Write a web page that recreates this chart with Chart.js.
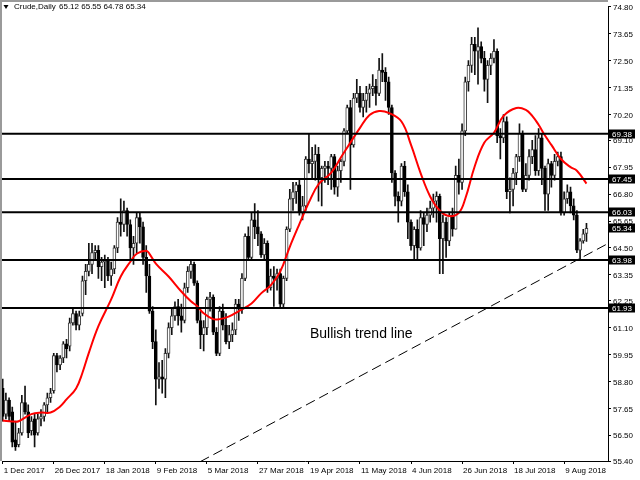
<!DOCTYPE html>
<html lang="en">
<head>
    <meta charset="UTF-8">
    <title>Crude,Daily</title>
    <style>
        body { margin: 0; background: #fff; }
    </style>
</head>
<body>
    <div style="width: 640px; height: 480px;">
        <canvas id="myChart" width="640" height="480"></canvas>
    </div>

    <script src="https://cdn.jsdelivr.net/npm/chart.js"></script>
    <script>
        // bar index of each date label on the time axis
        const dateIdx = [0, 16, 32, 48, 64, 80, 96, 112, 128, 144, 160, 176];
        const dateLabels = ['1 Dec 2017', '26 Dec 2017', '18 Jan 2018', '9 Feb 2018', '5 Mar 2018', '27 Mar 2018',
            '19 Apr 2018', '11 May 2018', '4 Jun 2018', '26 Jun 2018', '18 Jul 2018', '9 Aug 2018'];

        // price axis ticks
        const yTicks = [74.80, 73.65, 72.50, 71.35, 70.20, 69.10, 67.95, 66.80, 65.65, 64.50,
            63.35, 62.25, 61.10, 59.95, 58.80, 57.65, 56.50, 55.40];

        // daily candles
        const openP = [
            58.5, 57.4, 58.0, 57.5, 56.3, 56.1, 56.6, 57.9, 57.5, 56.7, 57.2, 56.6, 57.2, 57.3, 57.8, 58.1,
            58.4, 59.9, 59.5, 59.8, 60.4, 60.3, 61.3, 61.7, 61.2, 61.7, 63.1, 63.5, 63.8, 64.3, 64.4, 63.7,
            63.9, 64.0, 63.3, 63.6, 64.5, 65.6, 65.5, 66.1, 65.5, 64.5, 64.7, 65.8, 65.4, 64.1, 63.3, 61.8,
            60.5, 58.9, 59.0, 58.9, 60.0, 61.1, 61.6, 62.0, 61.6, 61.4, 62.8, 63.5, 63.8, 63.0, 61.4, 60.8,
            61.1, 62.3, 62.4, 60.9, 60.0, 61.8, 61.2, 60.5, 60.8, 61.0, 62.1, 61.9, 63.2, 65.0, 64.1, 65.7,
            65.4, 65.1, 64.2, 64.7, 62.8, 63.3, 63.2, 63.4, 62.1, 63.2, 65.3, 66.6, 66.9, 67.2, 66.0, 66.3,
            68.3, 68.1, 68.2, 68.5, 67.5, 67.9, 68.0, 67.9, 68.4, 67.1, 67.8, 68.2, 69.5, 70.5, 68.9, 70.9,
            71.1, 70.5, 70.8, 71.1, 71.3, 71.4, 71.1, 72.1, 72.0, 71.6, 70.5, 67.7, 66.7, 66.5, 68.0, 66.9,
            65.6, 64.6, 65.3, 64.5, 65.8, 65.5, 65.9, 66.2, 66.5, 66.7, 64.9, 65.6, 64.8, 65.9, 65.3, 67.6,
            67.3, 69.5, 71.6, 72.3, 73.2, 72.9, 73.1, 72.6, 71.7, 72.3, 72.6, 72.9, 69.3, 69.2, 69.9, 66.9,
            67.0, 67.7, 68.4, 69.4, 67.0, 67.6, 68.4, 68.7, 67.8, 69.2, 67.9, 66.8, 68.1, 67.6, 68.2, 68.4,
            66.0, 66.6, 66.9, 66.3, 65.9, 64.4, 64.8, 65.12
        ];
        const highP = [
            58.9, 58.3, 58.1, 57.7, 57.1, 56.8, 58.2, 58.6, 57.8, 57.3, 57.4, 57.4, 57.6, 57.9, 58.3, 58.5,
            60.0, 60.0, 59.9, 60.5, 60.6, 61.5, 61.9, 61.8, 61.8, 63.3, 63.8, 64.7, 64.7, 64.6, 64.6, 64.1,
            64.2, 64.1, 63.9, 64.6, 65.8, 66.6, 66.5, 66.2, 65.7, 65.0, 66.0, 66.0, 65.6, 64.6, 63.8, 62.0,
            61.0, 59.6, 59.7, 60.2, 61.3, 61.9, 62.2, 62.3, 62.1, 63.0, 63.7, 64.0, 63.9, 63.1, 61.8, 61.4,
            62.4, 62.6, 62.5, 61.1, 62.0, 62.1, 61.7, 61.2, 61.3, 62.3, 62.3, 63.4, 65.1, 65.4, 66.0, 66.4,
            66.1, 65.2, 64.9, 64.8, 63.6, 63.7, 63.6, 63.6, 63.3, 65.4, 67.0, 67.3, 67.3, 67.4, 66.7, 68.4,
            69.4, 68.8, 68.9, 68.8, 68.0, 68.2, 68.2, 68.5, 68.5, 68.0, 68.3, 69.6, 70.6, 70.8, 71.1, 71.7,
            71.4, 71.1, 71.4, 71.5, 71.9, 71.7, 72.6, 72.8, 72.2, 71.8, 70.6, 67.8, 66.9, 68.1, 68.2, 67.2,
            65.7, 65.4, 65.7, 66.1, 66.0, 66.2, 66.5, 66.8, 66.9, 66.8, 65.9, 65.8, 66.0, 66.2, 68.0, 68.3,
            69.8, 71.8, 72.5, 73.5, 73.5, 73.9, 73.3, 72.9, 72.5, 72.8, 73.4, 73.0, 69.6, 70.2, 70.1, 67.5,
            67.9, 68.5, 69.8, 69.5, 68.1, 68.7, 69.1, 69.3, 69.6, 69.4, 68.0, 68.3, 68.2, 68.5, 68.6, 68.6,
            66.9, 67.2, 67.1, 66.6, 66.1, 64.9, 65.3, 65.55
        ];
        const lowP = [
            57.1, 57.2, 57.1, 56.0, 55.85, 56.0, 56.5, 57.4, 56.4, 56.5, 56.0, 56.5, 56.9, 57.1, 57.5, 57.9,
            58.3, 59.2, 59.3, 59.6, 59.8, 60.1, 61.2, 61.0, 61.0, 61.6, 62.5, 63.3, 63.4, 64.0, 63.2, 63.1,
            62.8, 63.1, 62.9, 63.4, 64.3, 65.0, 65.2, 65.0, 64.0, 63.8, 64.3, 64.7, 63.8, 62.6, 61.7, 60.2,
            57.8, 58.5, 58.3, 58.1, 59.8, 60.8, 61.4, 61.2, 60.9, 61.3, 62.6, 63.2, 62.9, 61.3, 60.2, 60.1,
            60.8, 61.8, 60.8, 59.9, 59.9, 61.0, 60.4, 60.2, 60.5, 60.8, 61.4, 61.7, 63.1, 64.0, 64.0, 64.9,
            64.6, 64.1, 64.0, 62.6, 62.7, 62.0, 62.7, 61.93, 61.95, 63.1, 65.2, 66.1, 66.4, 65.9, 65.7, 66.1,
            67.7, 67.5, 67.4, 66.5, 66.3, 67.3, 67.2, 67.0, 66.8, 66.7, 67.3, 68.0, 69.4, 67.0, 68.8, 70.7,
            70.3, 70.1, 70.3, 70.5, 71.0, 70.6, 71.0, 71.6, 70.8, 70.2, 67.3, 66.3, 65.6, 66.3, 66.7, 64.9,
            64.4, 64.0, 64.0, 64.4, 64.6, 65.2, 65.6, 65.8, 65.6, 63.4, 63.4, 64.1, 64.6, 65.0, 65.3, 66.8,
            67.0, 69.3, 71.2, 72.0, 71.9, 71.5, 72.4, 71.2, 70.7, 71.9, 72.4, 69.0, 68.3, 69.0, 66.6, 66.0,
            66.3, 67.2, 68.2, 66.9, 66.9, 67.4, 68.1, 67.6, 67.6, 67.2, 66.1, 66.1, 67.1, 67.4, 68.0, 65.9,
            65.9, 66.4, 66.0, 65.7, 64.3, 63.98, 64.7, 64.78
        ];
        const closeP = [
            57.3, 58.0, 57.3, 56.2, 56.0, 56.6, 57.9, 57.5, 56.6, 57.1, 56.5, 57.2, 57.3, 57.8, 58.1, 58.3,
            59.9, 59.5, 59.8, 60.4, 60.2, 61.3, 61.7, 61.2, 61.6, 63.1, 63.5, 63.8, 64.3, 64.4, 63.7, 63.9,
            64.0, 63.3, 63.6, 64.5, 65.6, 65.5, 66.1, 65.5, 64.5, 64.7, 65.8, 65.4, 64.1, 63.3, 61.8, 60.5,
            58.9, 59.0, 58.9, 60.0, 61.1, 61.6, 62.0, 61.6, 61.4, 62.8, 63.5, 63.8, 63.0, 61.4, 60.8, 61.1,
            62.3, 62.4, 60.9, 60.0, 61.8, 61.2, 60.5, 60.8, 61.0, 62.1, 61.9, 63.2, 65.0, 64.1, 65.7, 65.4,
            65.1, 64.2, 64.7, 62.8, 63.3, 63.2, 63.4, 62.1, 63.2, 65.3, 66.6, 66.9, 67.2, 66.0, 66.3, 68.3,
            68.1, 68.2, 68.5, 67.5, 67.9, 68.0, 67.9, 68.4, 67.1, 67.8, 68.2, 69.5, 70.5, 68.9, 70.9, 71.1,
            70.5, 70.8, 71.1, 71.3, 71.4, 71.1, 72.1, 72.0, 71.6, 70.5, 67.7, 66.7, 66.5, 68.0, 66.9, 65.6,
            64.6, 65.3, 64.5, 65.8, 65.5, 65.9, 66.2, 66.5, 66.7, 64.9, 65.6, 64.8, 65.9, 65.3, 67.6, 67.3,
            69.5, 71.6, 72.3, 73.2, 72.9, 73.1, 72.6, 71.7, 72.3, 72.6, 72.9, 69.3, 69.2, 69.9, 66.9, 67.0,
            67.7, 68.4, 69.4, 67.0, 67.6, 68.4, 68.7, 67.8, 69.2, 67.9, 66.8, 68.1, 67.6, 68.2, 68.4, 66.0,
            66.6, 66.9, 66.3, 65.9, 64.4, 64.8, 65.1, 65.34
        ];

        // red moving average, read at some bars
        const maIdx = [0, 3, 5, 9, 12, 15, 18, 20, 23, 25, 27, 30, 34, 37, 40, 42, 45, 46, 48, 52, 56, 59, 61,
            63, 66, 68, 71, 74, 78, 81, 84, 87, 90, 93, 96, 99, 103, 106, 109, 112, 115, 118, 121, 125,
            128, 131, 134, 137, 140, 143, 145, 148, 151, 154, 157, 161, 164, 166, 168, 170, 172, 175, 178, 180, 183];
        const maVal = [57.13, 57.09, 57.1, 57.4, 57.47, 57.47, 57.73, 58.03, 58.5, 59.17, 60.02, 61.16, 62.3,
            63.28, 63.91, 64.25, 64.38, 64.25, 63.83, 63.28, 62.64, 62.22, 62.01, 61.71, 61.46, 61.46, 61.58,
            61.8, 62.13, 62.56, 62.9, 63.49, 64.55, 65.52, 66.45, 67.22, 67.72, 68.36, 69.0, 69.63, 70.18,
            70.35, 70.27, 69.9, 68.9, 67.7, 66.7, 66.1, 65.86, 66.0, 66.6, 68.0, 69.0, 69.42, 70.14, 70.48,
            70.4, 70.14, 69.76, 69.3, 68.9, 68.3, 67.95, 67.8, 67.25];

        // horizontal levels and last price
        const levels = [69.38, 67.45, 66.03, 63.98, 61.93];
        const lastPrice = 65.34;
        const headerPrices = '65.12 65.55 64.78 65.34';

        // dashed trend line, two ends
        const trendIdx = [61.9, 189.75];
        const trendVal = [55.37, 64.69];

        const X_MIN = -0.22, X_MAX = 189.75;
        const FONT = "'Liberation Sans', Arial, sans-serif";

        Chart.defaults.font.family = FONT;
        Chart.defaults.font.size = 8;
        Chart.defaults.color = '#000';

        let v_wicks = lowP.map((l, i) => ({ x: i, y: [l, highP[i]] }));
        let v_bodies = openP.map((o, i) => ({ x: i, y: [Math.min(o, closeP[i]), Math.max(o, closeP[i])] }));
        let v_isUp = openP.map((o, i) => closeP[i] >= o);

        let v_datasets = [];
        // horizontal lines on top
        levels.forEach(lv => {
            v_datasets.push({
                type: 'line',
                data: [{ x: X_MIN, y: lv }, { x: X_MAX, y: lv }],
                borderColor: '#000',
                borderWidth: 2,
                pointRadius: 0,
                order: 0
            });
        });
        v_datasets.push({
            type: 'line',
            data: trendIdx.map((x, k) => ({ x: x, y: trendVal[k] })),
            borderColor: '#000',
            borderWidth: 1,
            borderDash: [10, 5],
            pointRadius: 0,
            order: 0
        });
        v_datasets.push({
            type: 'line',
            data: maIdx.map((x, k) => ({ x: x, y: maVal[k] })),
            borderColor: '#ff0000',
            borderWidth: 2,
            pointRadius: 0,
            tension: 0.4,
            order: 1
        });
        v_datasets.push({
            type: 'bar',
            data: v_bodies,
            backgroundColor: ctx => v_isUp[ctx.dataIndex] ? '#ffffff' : '#000000',
            borderColor: ctx => v_isUp[ctx.dataIndex] ? '#3a3a3a' : '#000000',
            borderWidth: 1,
            borderSkipped: false,
            barThickness: 3,
            minBarLength: 1,
            grouped: false,
            order: 2
        });
        v_datasets.push({
            type: 'bar',
            data: v_wicks,
            backgroundColor: '#111111',
            barThickness: 1,
            grouped: false,
            order: 3
        });

        // frame, header, price boxes, text note
        const decor = {
            id: 'decor',
            afterDraw(chart) {
                const c = chart.ctx;
                const a = chart.chartArea;
                const ys = chart.scales.y;
                const xs = chart.scales.x;
                c.save();
                // grey frame left and top
                c.fillStyle = '#9a9a9a';
                c.fillRect(0, 0, 2, a.bottom);
                c.fillRect(0, 0, a.right, 2);

                // header
                c.fillStyle = '#000';
                c.beginPath();
                c.moveTo(3.5, 5); c.lineTo(8.5, 5); c.lineTo(6, 9); c.closePath();
                c.fill();
                c.font = '8px ' + FONT;
                c.textBaseline = 'middle';
                c.textAlign = 'left';
                c.fillText('Crude,Daily', 14, 7);
                c.fillText(headerPrices, 59, 7);

                // price boxes on axis
                levels.concat([lastPrice]).forEach(v => {
                    const y = Math.round(ys.getPixelForValue(v));
                    c.fillStyle = '#000';
                    c.fillRect(a.right + 1, y - 4.5, 26, 9);
                    c.fillStyle = '#fff';
                    c.fillText(v.toFixed(2), a.right + 4, y + 0.5);
                });

                // note
                c.fillStyle = '#000';
                c.font = '14px ' + FONT;
                c.textBaseline = 'alphabetic';
                c.fillText('Bullish trend line', xs.getPixelForValue(96.3), ys.getPixelForValue(60.67));
                c.restore();
            }
        };

        const ctx = document.querySelector('#myChart');
        let v_chart = new Chart(ctx, {
            type: 'bar',
            data: { datasets: v_datasets },
            plugins: [decor],
            options: {
                responsive: false,
                animation: false,
                devicePixelRatio: 1,
                layout: { padding: { left: 2, top: 1, right: 0, bottom: 0 } },
                plugins: {
                    legend: { display: false },
                    tooltip: { enabled: false }
                },
                scales: {
                    x: {
                        type: 'linear',
                        position: 'bottom',
                        min: X_MIN,
                        max: X_MAX,
                        offset: false,
                        grid: { display: true, drawOnChartArea: false, drawTicks: true, tickLength: 3, color: '#000', offset: false },
                        border: { display: true, color: '#000' },
                        ticks: {
                            autoSkip: false,
                            maxRotation: 0,
                            align: 'start',
                            padding: 2,
                            labelOffset: 1,
                            callback: (v, i) => dateLabels[i]
                        },
                        afterBuildTicks: s => { s.ticks = dateIdx.map(v => ({ value: v })); },
                        afterFit: s => { s.height = 19; }
                    },
                    y: {
                        type: 'linear',
                        position: 'right',
                        min: 55.40,
                        max: 74.80,
                        beginAtZero: false,
                        grid: { display: true, drawOnChartArea: false, drawTicks: true, tickLength: 3, color: '#000' },
                        border: { display: true, color: '#000' },
                        ticks: {
                            padding: 2,
                            labelOffset: 1,
                            callback: v => Number(v).toFixed(2)
                        },
                        afterBuildTicks: s => { s.ticks = yTicks.map(v => ({ value: v })); },
                        afterFit: s => { s.width = 32; }
                    }
                }
            }
        });
    </script>
</body>
</html>
